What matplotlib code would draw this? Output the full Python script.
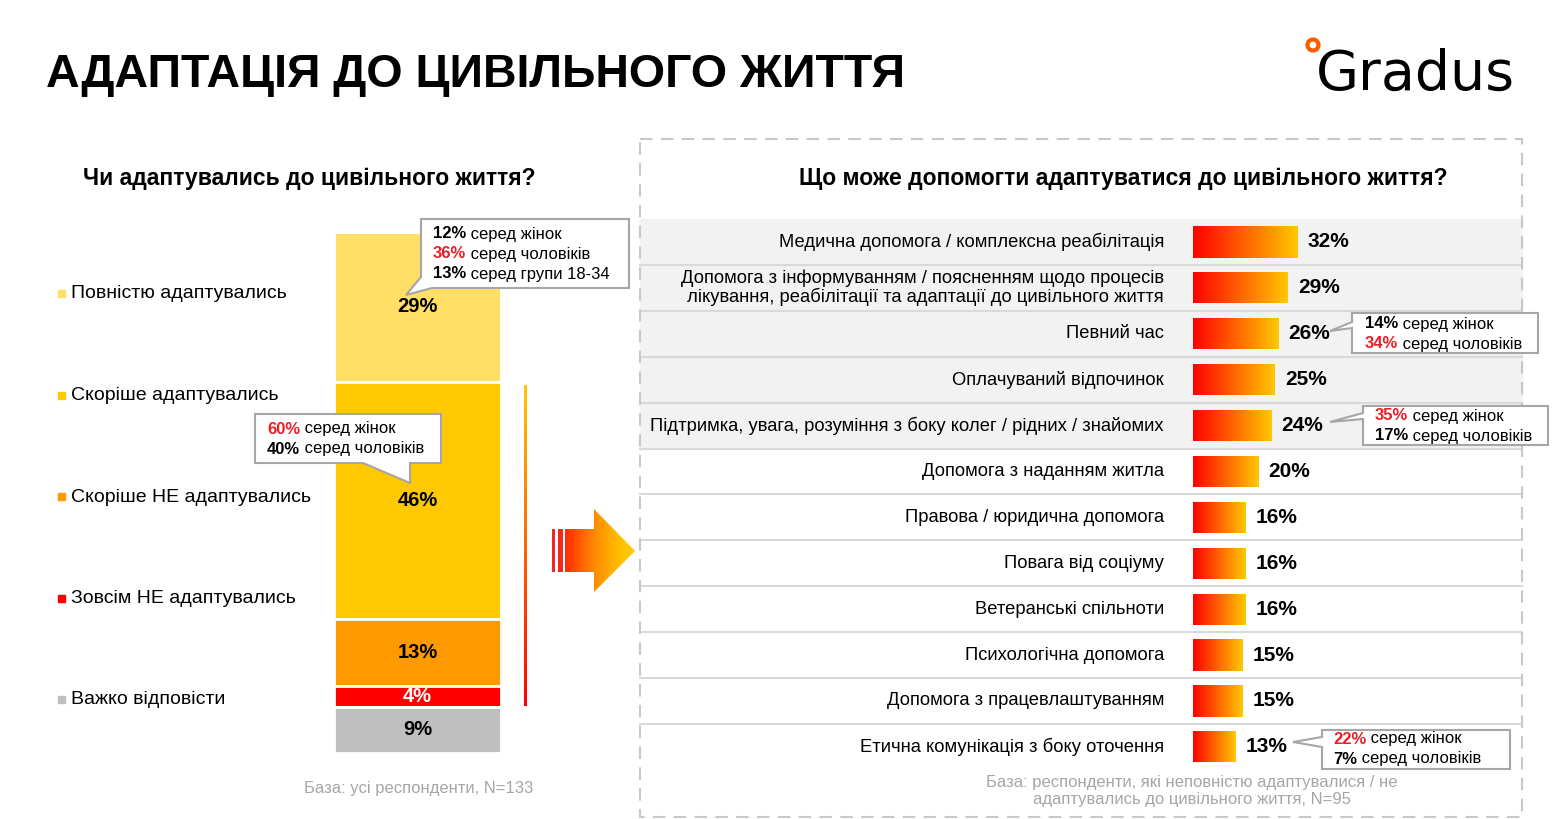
import matplotlib
matplotlib.use('Agg')
import matplotlib.pyplot as plt
import numpy as np
from matplotlib.patches import Rectangle, Polygon, Circle
from matplotlib.colors import LinearSegmentedColormap

plt.rcParams['font.family'] = ['Liberation Sans', 'DejaVu Sans']

# ---------------- data ----------------
main_title = "АДАПТАЦІЯ ДО ЦИВІЛЬНОГО ЖИТТЯ"
left_title = "Чи адаптувались до цивільного життя?"
right_title = "Що може допомогти адаптуватися до цивільного життя?"

left_categories = ["Повністю адаптувались", "Скоріше адаптувались",
                   "Скоріше НЕ адаптувались", "Зовсім НЕ адаптувались",
                   "Важко відповісти"]
left_values = [29, 46, 13, 4, 9]
left_colors = ['#FFDF66', '#FFC800', '#FF9900', '#FF0000', '#BFBFBF']
left_label_colors = ['black', 'black', 'black', 'white', 'black']

right_categories = [
    "Медична допомога / комплексна реабілітація",
    "Допомога з інформуванням / поясненням щодо процесів\nлікування, реабілітації та адаптації до цивільного життя",
    "Певний час",
    "Оплачуваний відпочинок",
    "Підтримка, увага, розуміння з боку колег / рідних / знайомих",
    "Допомога з наданням житла",
    "Правова / юридична допомога",
    "Повага від соціуму",
    "Ветеранські спільноти",
    "Психологічна допомога",
    "Допомога з працевлаштуванням",
    "Етична комунікація з боку оточення",
]
right_values = [32, 29, 26, 25, 24, 20, 16, 16, 16, 15, 15, 13]

RED = '#EE1C25'
callouts = {
    'left1': [("12%", 'black', "серед жінок"), ("36%", RED, "серед чоловіків"),
              ("13%", 'black', "серед групи 18-34")],
    'left2': [("60%", RED, "серед жінок"), ("40%", 'black', "серед чоловіків")],
    'right1': [("14%", 'black', "серед жінок"), ("34%", RED, "серед чоловіків")],
    'right2': [("35%", RED, "серед жінок"), ("17%", 'black', "серед чоловіків")],
    'right3': [("22%", RED, "серед жінок"), ("7%", 'black', "серед чоловіків")],
}
left_base = "База: усі респонденти, N=133"
right_base = "База: респонденти, які неповністю адаптувалися / не\nадаптувались до цивільного життя, N=95"

# ---------------- figure ----------------
W, H = 1560, 819
fig = plt.figure(figsize=(15.6, 8.19), dpi=100)
fig.patch.set_facecolor('white')
cv = fig.add_axes([0, 0, 1, 1])
cv.set_xlim(0, W); cv.set_ylim(H, 0); cv.axis('off')


def px_axes(x0, y0, x1, y1):
    a = fig.add_axes([x0 / W, 1 - y1 / H, (x1 - x0) / W, (y1 - y0) / H])
    a.axis('off')
    return a


grad_rg = LinearSegmentedColormap.from_list('rg', ['#FF0000', '#FFC800'])
grad_arrow = LinearSegmentedColormap.from_list('ar', ['#FF2A00', '#FF8C00', '#FFC800'])

# titles
cv.text(46, 75, main_title, fontsize=33.5, fontweight='bold', va='center', ha='left')
cv.text(309, 179, left_title, fontsize=16.5, fontweight='bold', va='center', ha='center')
cv.text(1123, 179, right_title, fontsize=16.5, fontweight='bold', va='center', ha='center')

# logo
cv.text(1316, 90, "Gradus", fontsize=40, family='DejaVu Sans', va='baseline', ha='left')
cv.add_patch(Circle((1313, 45), 5.5, facecolor='none', edgecolor='#FF5A00', lw=3))

# ---------------- left stacked bar ----------------
axl = px_axes(334, 232, 501, 753)
total = sum(left_values)
axl.set_xlim(-0.5, 0.5); axl.set_ylim(total, 0)
bottom = 0
for v, c, lc in zip(left_values, left_colors, left_label_colors):
    axl.bar(0, v, bottom=bottom, width=1, color=c, edgecolor='white', linewidth=2)
    axl.text(0, bottom + v / 2, f"{v}%", ha='center', va='center', fontsize=14.5,
             fontweight='bold', color=lc)
    bottom += v

for i, (cat, c) in enumerate(zip(left_categories, left_colors)):
    y = 294 + i * 101.5
    cv.add_patch(Rectangle((58, y - 4), 7, 7, color=c))
    cv.text(71, y, cat, fontsize=14, va='center', ha='left')

# bracket gradient line
grad_v = np.linspace(0, 1, 256).reshape(-1, 1)
cv.imshow(grad_v[::-1], cmap=grad_rg, extent=[523.5, 526, 706, 385], aspect='auto', zorder=2)

# arrow
arrow_pts = [(565, 529), (594, 529), (594, 509), (635, 551), (594, 592), (594, 572), (565, 572)]
arrow = Polygon(arrow_pts, closed=True, facecolor='none', edgecolor='none')
cv.add_patch(arrow)
grad_h = np.linspace(0, 1, 256).reshape(1, -1)
im = cv.imshow(grad_h, cmap=grad_arrow, extent=[565, 625, 592, 509], aspect='auto', zorder=2)
im.set_clip_path(arrow)
cv.imshow(grad_h, cmap=LinearSegmentedColormap.from_list('t', ['#FFC800', '#FFC800']),
          extent=[624, 636, 592, 509], aspect='auto', zorder=2).set_clip_path(arrow)
cv.add_patch(Rectangle((552, 529), 3, 43, color='#F0281E', lw=0))
cv.add_patch(Rectangle((558, 529), 4.5, 43, color='#F0281E', lw=0))

# ---------------- right panel ----------------
row_top, row_h = 219, 45.9
for i in range(5):
    cv.add_patch(Rectangle((640, row_top + i * row_h), 882, row_h, color='#F2F2F2', zorder=0))
for i in range(1, 12):
    y = row_top + i * row_h
    cv.plot([640, 1522], [y, y], color='#D9D9D9', lw=1.5, zorder=1)
cv.add_patch(Rectangle((640, 139), 882, 678, facecolor='none', edgecolor='#C8C8C8',
                       lw=1.5, linestyle=(0, (6, 4)), zorder=3))

n = len(right_values)
axr = px_axes(1193, row_top, 1520, row_top + n * row_h)
axr.set_xlim(0, 100); axr.set_ylim(n - 0.5, -0.5)
bars = axr.barh(range(n), right_values, height=0.68, color='none')
for i, (b, v) in enumerate(zip(bars, right_values)):
    im = axr.imshow(grad_h, cmap=grad_rg, extent=[0, v, i + 0.34, i - 0.34],
                    aspect='auto', zorder=2)
    im.set_clip_path(b)
    axr.text(v + 3.1, i, f"{v}%", va='center', ha='left', fontsize=15, fontweight='bold')
axr.set_xlim(0, 100); axr.set_ylim(n - 0.5, -0.5)

for i, cat in enumerate(right_categories):
    cv.text(1164, row_top + (i + 0.5) * row_h, cat, ha='right', va='center',
            fontsize=13.25, linespacing=1.05)

# footnotes
cv.text(419, 789, left_base, fontsize=12, color='#A6A6A6', ha='center', va='center')
cv.text(1192, 791, right_base, fontsize=12, color='#A6A6A6', ha='center', va='center',
        linespacing=1.2)

# ---------------- callouts (overlay) ----------------
top = fig.add_axes([0, 0, 1, 1])
top.set_xlim(0, W); top.set_ylim(H, 0); top.axis('off')
shapes = {
    'left1': [(421, 219), (629, 219), (629, 288), (432, 288), (406, 295), (421, 277)],
    'left2': [(255, 414), (441, 414), (441, 463), (410, 463), (410, 483), (363, 463), (255, 463)],
    'right1': [(1352, 313), (1538, 313), (1538, 353), (1352, 353), (1352, 328), (1330, 331), (1352, 322)],
    'right2': [(1363, 406), (1548, 406), (1548, 445), (1363, 445), (1363, 419), (1330, 422), (1363, 413)],
    'right3': [(1322, 730), (1510, 730), (1510, 769), (1322, 769), (1322, 747), (1293, 742), (1322, 737)],
}
text_pos = {'left1': (433, 234), 'left2': (267, 429), 'right1': (1365, 324),
            'right2': (1375, 416), 'right3': (1333, 739)}
for key, pts in shapes.items():
    top.add_patch(Polygon(pts, closed=True, facecolor='white', edgecolor='#A6A6A6',
                          lw=1.5, zorder=5, joinstyle='miter'))
    x0, y0 = text_pos[key]
    for j, (num, col, rest) in enumerate(callouts[key]):
        t1 = top.text(x0, y0 + j * 20, num, fontsize=12, fontweight='bold', color=col,
                      va='center', ha='left', zorder=6)
        top.annotate(" " + rest, xy=(1, 0.5), xycoords=t1, fontsize=12, va='center',
                     ha='left', zorder=6)

fig.savefig('out.png', dpi=100, facecolor='white')
